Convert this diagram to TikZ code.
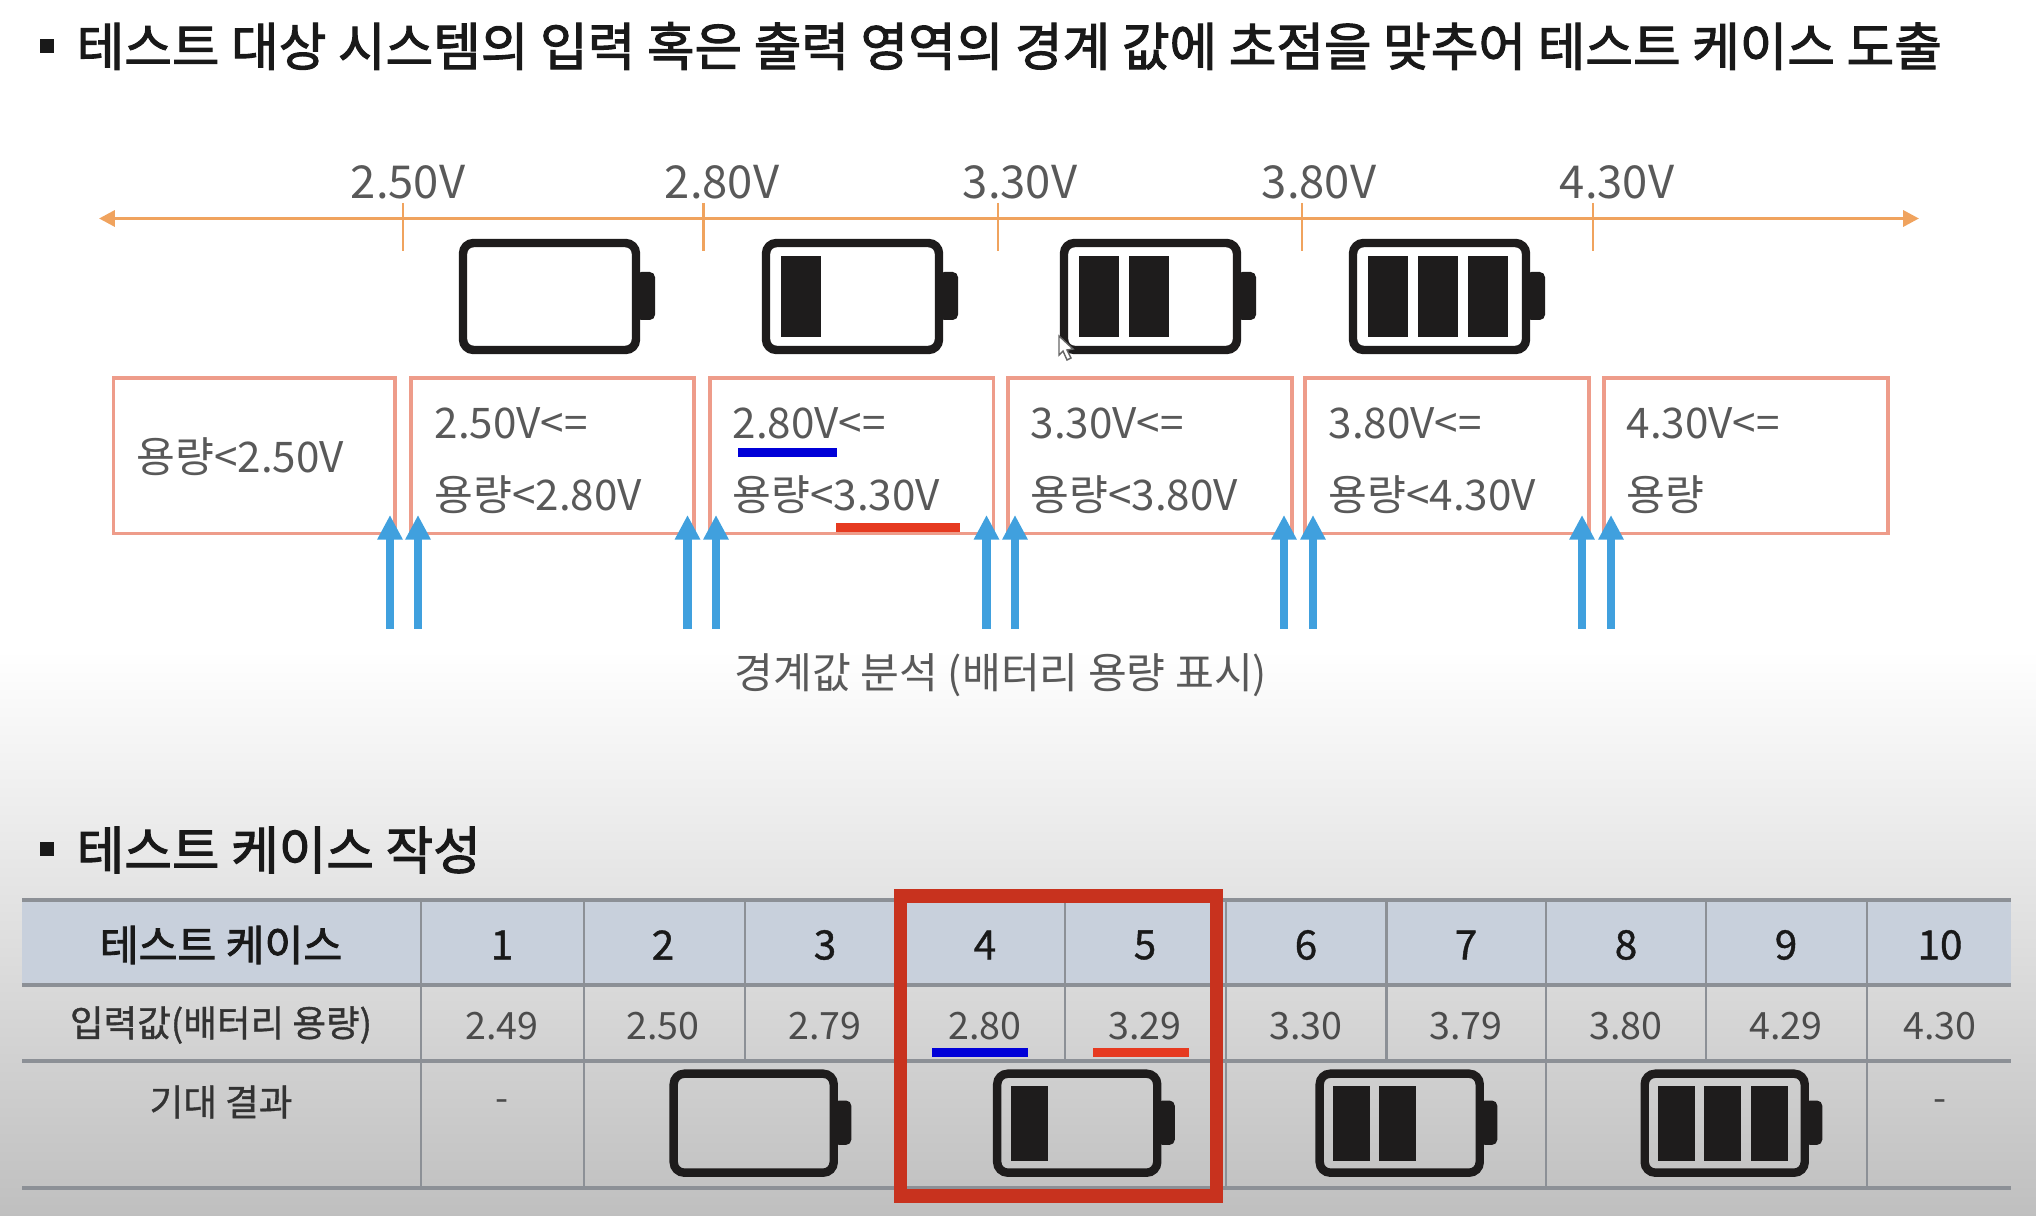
\documentclass[tikz,border=0pt]{standalone}
\usepackage{fontspec}
\setmainfont{Noto Sans CJK KR}
\newfontfamily\titlefont[FakeBold=2]{Noto Sans CJK KR}
\newfontfamily\numfont[FakeBold=1]{Noto Sans CJK KR}
\usetikzlibrary{arrows.meta}

\definecolor{axisorange}{HTML}{F0A35E}
\definecolor{boxsalmon}{HTML}{EE9C8A}
\definecolor{arrowblue}{HTML}{40A0DE}
\definecolor{markblue}{HTML}{0000D8}
\definecolor{markred}{HTML}{E63A20}
\definecolor{framered}{HTML}{C8321E}
\definecolor{headfill}{HTML}{C8D0DC}
\definecolor{rulegray}{HTML}{8C9096}
\definecolor{battblack}{HTML}{1E1C1C}

% x, y of the top left corner, scale, number of bars
\newcommand{\battery}[4]{%
  \begin{scope}[shift={(#1,#2)},scale=#3]
    \fill[battblack,rounded corners=1.5pt] (177,33) rectangle (196,81);
    \draw[battline,rounded corners=3pt] (4,4) rectangle (177,111);
    \ifnum#4>0
      \foreach \b in {1,...,#4}
        \fill[battblack] ({18.5+50*(\b-1)},17) rectangle ++(40,81);
    \fi
  \end{scope}}

\begin{document}
\begin{tikzpicture}[x=0.01cm,y=-0.01cm,
  axisline/.style={<->,>={Triangle[length=4.5pt,width=4.5pt]},axisorange,line width=1pt},
  tickline/.style={axisorange,line width=0.6pt},
  battline/.style={battblack,line width=2.4pt},
  rangebox/.style={boxsalmon,line width=1.1pt},
  boundary/.style={-{Triangle[length=7pt,width=6.8pt]},arrowblue,line width=2.3pt},
  ticklabel/.style={text=black!65,font=\fontsize{12.9}{15}\selectfont,inner sep=0pt},
  rangelabel/.style={text=black!65,font=\fontsize{12}{14}\selectfont,anchor=west,inner sep=0pt},
  caption/.style={text=black!65,font=\fontsize{12}{14}\selectfont,inner sep=0pt},
  title/.style={text=black!90,font=\titlefont\fontsize{14.72}{17}\selectfont,anchor=west,inner sep=0pt},
  headcell/.style={text=black!90,font=\titlefont\fontsize{12}{14}\selectfont,inner sep=0pt},
  numcell/.style={text=black!90,font=\numfont\fontsize{11.5}{14}\selectfont,inner sep=0pt},
  valcell/.style={text=black!70,font=\fontsize{10.7}{14}\selectfont,inner sep=0pt},
  rowlabel/.style={text=black!80,font=\numfont\fontsize{10.4}{14}\selectfont,inner sep=0pt},
  tablerule/.style={rulegray,line width=1.1pt},
  tablegrid/.style={rulegray,line width=0.6pt}]

  % Background
  \fill[white] (0,0) rectangle (2036,651);
  \shade[top color=white,bottom color=black!25] (0,650) rectangle (2036,1216);
  \useasboundingbox (0,0) rectangle (2036,1216);

  % Titles
  \fill[black!90] (40,39) rectangle (54,53);
  \node[title] (title1) at (76,46) {테스트 대상 시스템의 입력 혹은 출력 영역의 경계 값에 초점을 맞추어 테스트 케이스 도출};
  \fill[black!90] (40,842) rectangle (54,856);
  \node[title] (title2) at (76,850) {테스트 케이스 작성};

  % Voltage axis
  \draw[axisline] (99,218.5) -- (1919,218.5);
  \foreach \x/\lx/\v in {403/408/2.50V,703.5/722/2.80V,998/1020/3.30V,1302/1319/3.80V,1593/1617/4.30V} {
    \draw[tickline] (\x,203) -- (\x,251);
    \node[ticklabel] (tick\v) at (\lx,182) {\v};
  }

  % Batteries above the ranges
  \battery{459}{239}{1}{0}
  \battery{762}{239}{1}{1}
  \battery{1060}{239}{1}{2}
  \battery{1349}{239}{1}{3}

  % Mouse pointer
  \draw[fill=white,draw=black!60,line width=0.4pt] (1059,336) -- (1059,355) -- (1063,351) -- (1067,360) -- (1071,358) -- (1067,350) -- (1073,349) -- cycle;

  % Ranges
  \foreach \xa/\xb in {113.5/395,411/694,710/993.5,1008/1292,1305/1589,1604/1888}
    \draw[rangebox] (\xa,378) rectangle (\xb,533.5);
  \node[rangelabel] (range1) at (136,457) {용량<2.50V};
  \foreach \x/\lo/\hi in {434/2.50V/2.80V,732/2.80V/3.30V,1030/3.30V/3.80V,1328/3.80V/4.30V} {
    \node[rangelabel] (low\lo) at (\x,423) {\lo<=};
    \node[rangelabel] (high\hi) at (\x,495) {용량<\hi};
  }
  \node[rangelabel] (low4.30V) at (1626,423) {4.30V<=};
  \node[rangelabel] (high4.30V) at (1626,495) {용량};

  % Marks on the third range
  \fill[markblue] (738,448) rectangle (837,457.5);
  \fill[markred] (836,523) rectangle (960,532.5);

  % Boundary arrows
  \foreach \x in {390,418,687.5,716,986.5,1015,1284,1313,1582,1611}
    \draw[boundary] (\x,629) -- (\x,515);
  \node[caption] (caption) at (1001,675) {경계값 분석 (배터리 용량 표시)};

  % Table
  \fill[headfill] (22,900) rectangle (2011,985);
  \foreach \y in {900,985,1061,1188}
    \draw[tablerule] (22,\y) -- (2011,\y);
  \foreach \x in {421,584,1226,1546,1867}
    \draw[tablegrid] (\x,900) -- (\x,1188);
  \foreach \x in {745,905,1065,1386.5,1706}
    \draw[tablegrid] (\x,900) -- (\x,1061);
  \node[headcell] (headlabel) at (221,945) {테스트 케이스};
  \node[rowlabel] (vallabel) at (221,1025) {입력값(배터리 용량)};
  \node[rowlabel] (expectlabel) at (221,1102) {기대 결과};
  \foreach \x/\n/\v in {502/1/2.49,663/2/2.50,825/3/2.79,985/4/2.80,1145/5/3.29,1306/6/3.30,1466/7/3.79,1626/8/3.80,1786/9/4.29,1940/10/4.30} {
    \node[numcell] (num\n) at (\x,945) {\n};
    \node[valcell] (val\n) at (\x,1026) {\v};
  }
  \node[valcell] (expect1) at (502,1106) {-};
  \node[valcell] (expect10) at (1940,1106) {-};

  % Batteries in the last row
  \battery{670}{1070}{0.925}{0}
  \battery{993.5}{1070}{0.925}{1}
  \battery{1316}{1070}{0.925}{2}
  \battery{1641}{1070}{0.925}{3}

  % Marks on cases 4 and 5
  \fill[markblue] (932,1048) rectangle (1028,1057);
  \fill[markred] (1093,1048) rectangle (1189,1057);

  % Frame round cases 4 and 5
  \draw[framered,line width=3.7pt] (900,896) rectangle (1216.5,1196);

\end{tikzpicture}
\end{document}
